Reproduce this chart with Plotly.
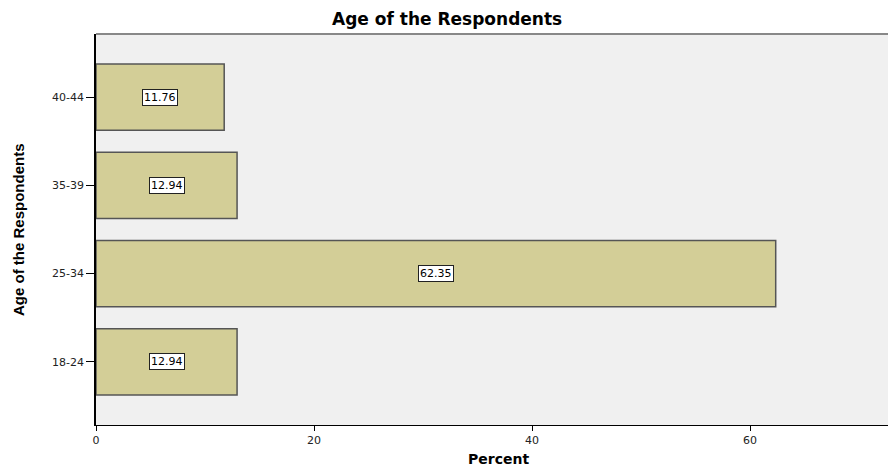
import plotly.graph_objects as go

categories = ["18-24", "25-34", "35-39", "40-44"]
percent = [12.94, 62.35, 12.94, 11.76]
x_ticks = [0, 20, 40, 60]

W, H = 888, 468
L, R, T, B = 96, 0, 34, 43
pw, ph = W - L - R, H - T - B

fig = go.Figure()
fig.add_trace(go.Bar(
    y=categories, x=percent, orientation="h", width=0.75,
    marker=dict(color="#D3CE97", line=dict(color="#555555", width=1.5)),
    hoverinfo="x+y",
))

for c, v in zip(categories, percent):
    fig.add_annotation(x=v / 2, y=c, text=f"{v:.2f}", showarrow=False,
                       font=dict(family="DejaVu Sans", size=11, color="black"),
                       bgcolor="white", bordercolor="#222", borderwidth=1, borderpad=1)

fig.add_annotation(xref="paper", yref="paper", x=(447 - L) / pw, y=(H - 19 - B) / ph,
                   text="<b>Age of the Respondents</b>", showarrow=False,
                   font=dict(family="DejaVu Sans", size=17, color="black"),
                   xanchor="center", yanchor="middle")
fig.add_annotation(xref="paper", yref="paper", x=(498 - L) / pw, y=(H - 459 - B) / ph,
                   text="<b>Percent</b>", showarrow=False,
                   font=dict(family="DejaVu Sans", size=14, color="black"),
                   xanchor="center", yanchor="middle")
fig.add_annotation(xref="paper", yref="paper", x=(18 - L) / pw, y=(H - 230 - B) / ph,
                   text="<b>Age of the Respondents</b>", showarrow=False, textangle=-90,
                   font=dict(family="Liberation Sans Narrow, Arial Narrow, Arial", size=15, color="black"),
                   xanchor="center", yanchor="middle")

fig.update_layout(
    width=W, height=H,
    margin=dict(l=L, r=R, t=T, b=B),
    paper_bgcolor="white", plot_bgcolor="#F0F0F0",
    showlegend=False,
    xaxis=dict(range=[0, 72.65], tickvals=x_ticks, ticks="outside", ticklen=5, tickcolor="black",
               showgrid=False, zeroline=False, showline=True, linecolor="black", linewidth=1,
               tickfont=dict(family="DejaVu Sans", size=11, color="#222")),
    yaxis=dict(range=[-0.716, 3.716], ticks="outside", ticklen=8, tickcolor="black",
               showgrid=False, zeroline=False, showline=True, linecolor="black", linewidth=1.5,
               tickfont=dict(family="DejaVu Sans", size=11, color="#222")),
)
fig.add_shape(type="line", xref="paper", yref="paper", x0=0, x1=1, y0=1, y1=1,
              line=dict(color="#888888", width=2))
fig.write_html("out.html")
